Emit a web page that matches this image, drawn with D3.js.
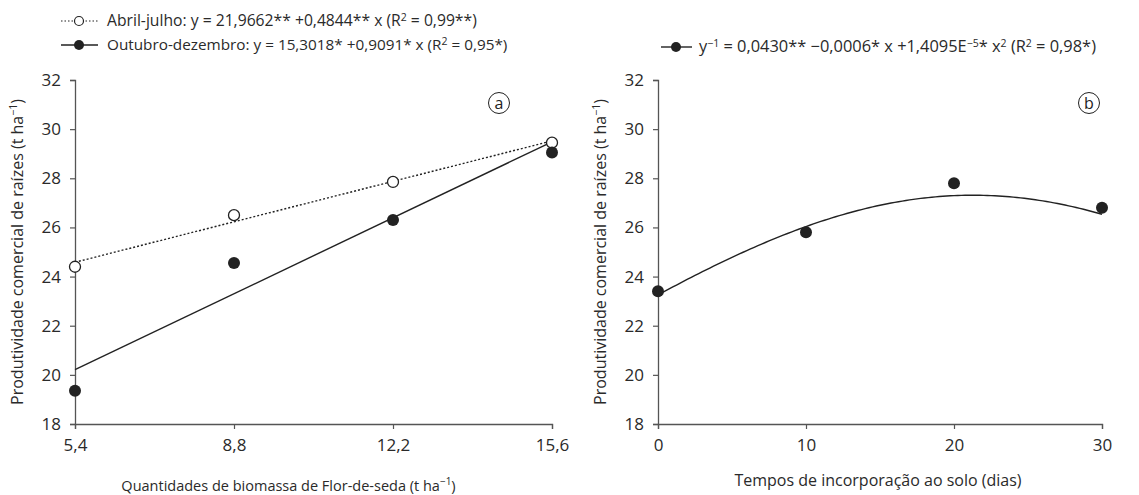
<!DOCTYPE html>
<html>
<head>
<meta charset="utf-8">
<script src="https://cdn.jsdelivr.net/npm/d3@7"></script>
<style>
  html, body { margin: 0; padding: 0; background: #fff; }
  svg { display: block; font-family: "Open Sans", "Noto Sans", sans-serif; }
</style>
</head>
<body>
<svg id="chart" width="1139" height="495"></svg>
<script>
// Panel (a): biomass quantity vs. commercial root yield
const biomass = [5.4, 8.8, 12.2, 15.6];
const abrilJulho = [24.4, 26.5, 27.85, 29.45];
const outubroDezembro = [19.35, 24.55, 26.3, 29.05];
// Panel (b): incorporation time vs. commercial root yield
const dias = [0, 10, 20, 30];
const produtividadeDias = [23.4, 25.8, 27.8, 26.8];
// Axis ticks
const yTicks = [18, 20, 22, 24, 26, 28, 30, 32];
const biomassTicks = [5.4, 8.8, 12.2, 15.6];
const diasTicks = [0, 10, 20, 30];
// Fitted models
const fitAbril = x => 21.9662 + 0.4844 * x;
const fitOutubro = x => 15.3018 + 0.9091 * x;
const fitDias = x => 1 / (0.0430 - 0.0006 * x + 1.4095e-5 * x * x);

const svg = d3.select("#chart");
const ink = "#222";
const textInk = "#2a2a2a";
const axisColor = "#555";
const fmt = d => String(d).replace(".", ",");

// Writes a run of text pieces; pieces given as {sup: "..."} are raised and smaller.
function richText(sel, parts, size, supSize, lift) {
  let shift = 0;
  parts.forEach(p => {
    const isSup = typeof p !== "string";
    const target = isSup ? -lift : 0;
    const ts = sel.append("tspan").text(isSup ? p.sup : p)
      .attr("font-size", isSup ? supSize : size);
    if (target !== shift) ts.attr("dy", target - shift);
    shift = target;
  });
}

function drawAxes(g, x, y, xTicks, xTitle) {
  const ya = g.append("g").attr("transform", `translate(${x.range()[0]},0)`)
    .call(d3.axisLeft(y).tickValues(yTicks).tickSize(5).tickPadding(9).tickFormat(d => d));
  const xa = g.append("g").attr("transform", `translate(0,${y.range()[0]})`)
    .call(d3.axisBottom(x).tickValues(xTicks).tickSize(5).tickPadding(10).tickFormat(fmt));
  [ya, xa].forEach(a => {
    a.select(".domain").attr("stroke", axisColor).attr("stroke-width", 1.3);
    a.selectAll(".tick line").attr("stroke", axisColor).attr("stroke-width", 1.2);
    a.selectAll(".tick text").attr("font-size", 17).attr("fill", textInk)
      .attr("font-family", "'Open Sans', sans-serif");
  });
  const xt = g.append("text")
    .attr("x", (x.range()[0] + x.range()[1]) / 2 + xTitle.dx).attr("y", xTitle.y)
    .attr("text-anchor", "middle").attr("fill", textInk);
  richText(xt, xTitle.parts, xTitle.size, 10, 6);
  const yt = g.append("text")
    .attr("transform", `translate(${x.range()[0] - 52},${(y.range()[0] + y.range()[1]) / 2}) rotate(-90)`)
    .attr("text-anchor", "middle").attr("fill", textInk);
  richText(yt, ["Produtividade comercial de raízes (t ha", { sup: "−1" }, ")"], 16, 10.5, 6);
}

function panelLabel(g, cx, cy, letter) {
  g.append("circle").attr("cx", cx).attr("cy", cy).attr("r", 10.5)
    .attr("fill", "none").attr("stroke", ink).attr("stroke-width", 1);
  g.append("text").attr("x", cx).attr("y", cy + 5.5).attr("text-anchor", "middle")
    .attr("font-size", 16).attr("fill", ink).text(letter);
}

// ---------- Panel (a) ----------
const xA = d3.scaleLinear().domain([5.4, 15.6]).range([75, 552]);
const yA = d3.scaleLinear().domain([18, 32]).range([424, 80]);
const gA = svg.append("g");
drawAxes(gA, xA, yA, biomassTicks, {
  parts: ["Quantidades de biomassa de Flor-de-seda (t ha", { sup: "−1" }, ")"],
  size: 14.5, dx: -25, y: 491
});

const lineA = d3.line().x(d => xA(d[0])).y(d => yA(d[1]));
const xs = d3.extent(biomass);
gA.append("path").datum(xs.map(v => [v, fitAbril(v)])).attr("d", lineA)
  .attr("fill", "none").attr("stroke", ink).attr("stroke-width", 1.4).attr("stroke-dasharray", "2,2");
gA.append("path").datum(xs.map(v => [v, fitOutubro(v)])).attr("d", lineA)
  .attr("fill", "none").attr("stroke", ink).attr("stroke-width", 1.4);

gA.selectAll(".ab").data(biomass.map((v, i) => [v, abrilJulho[i]])).join("circle")
  .attr("cx", d => xA(d[0])).attr("cy", d => yA(d[1])).attr("r", 5.5)
  .attr("fill", "#fff").attr("stroke", ink).attr("stroke-width", 1.3);
gA.selectAll(".ou").data(biomass.map((v, i) => [v, outubroDezembro[i]])).join("circle")
  .attr("cx", d => xA(d[0])).attr("cy", d => yA(d[1])).attr("r", 6)
  .attr("fill", ink);
panelLabel(gA, 499, 103, "a");

// ---------- Panel (b) ----------
const xB = d3.scaleLinear().domain([0, 30]).range([658, 1102]);
const yB = d3.scaleLinear().domain([18, 32]).range([424, 80]);
const gB = svg.append("g");
drawAxes(gB, xB, yB, diasTicks, {
  parts: ["Tempos de incorporação ao solo (dias)"], size: 16, dx: -2, y: 486
});

const curve = d3.range(0, 30.01, 0.25).map(v => [v, fitDias(v)]);
gB.append("path").datum(curve)
  .attr("d", d3.line().x(d => xB(d[0])).y(d => yB(d[1])))
  .attr("fill", "none").attr("stroke", ink).attr("stroke-width", 1.4);
gB.selectAll(".pt").data(dias.map((v, i) => [v, produtividadeDias[i]])).join("circle")
  .attr("cx", d => xB(d[0])).attr("cy", d => yB(d[1])).attr("r", 6)
  .attr("fill", ink);
panelLabel(gB, 1089, 103, "b");

// ---------- Legends ----------
function legendText(x, y, parts, size) {
  const t = svg.append("text").attr("x", x).attr("y", y).attr("fill", textInk);
  richText(t, parts, size, 10.5, 5);
}

svg.append("line").attr("x1", 61).attr("x2", 98).attr("y1", 21).attr("y2", 21)
  .attr("stroke", ink).attr("stroke-width", 1.2).attr("stroke-dasharray", "1.5,2");
svg.append("circle").attr("cx", 79).attr("cy", 21).attr("r", 4.5)
  .attr("fill", "#fff").attr("stroke", ink).attr("stroke-width", 1.2);
legendText(107, 26, ["Abril-julho: y = 21,9662** +0,4844** x (R", { sup: "2" }, " = 0,99**)"], 15.7);

svg.append("line").attr("x1", 61).attr("x2", 98).attr("y1", 45).attr("y2", 45)
  .attr("stroke", ink).attr("stroke-width", 1.4);
svg.append("circle").attr("cx", 79).attr("cy", 45).attr("r", 5).attr("fill", ink);
legendText(107, 50, ["Outubro-dezembro: y = 15,3018* +0,9091* x (R", { sup: "2" }, " = 0,95*)"], 15.3);

svg.append("line").attr("x1", 661).attr("x2", 692).attr("y1", 47).attr("y2", 47)
  .attr("stroke", ink).attr("stroke-width", 1.4);
svg.append("circle").attr("cx", 676).attr("cy", 47).attr("r", 5).attr("fill", ink);
legendText(699, 52, ["y", { sup: "−1" }, " = 0,0430** −0,0006* x +1,4095E", { sup: "−5" }, "* x",
  { sup: "2" }, " (R", { sup: "2" }, " = 0,98*)"], 16.4);
</script>
</body>
</html>
